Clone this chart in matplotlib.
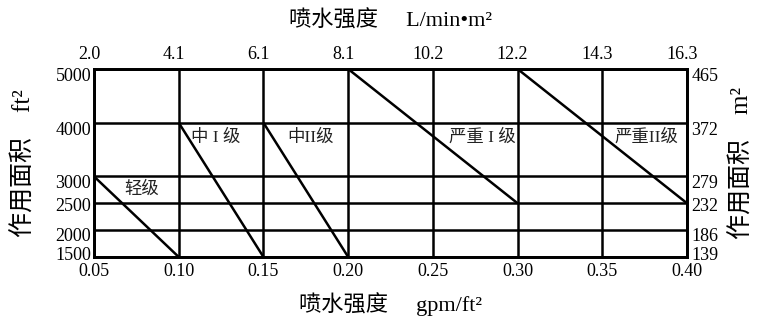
import matplotlib
matplotlib.use("Agg")
import matplotlib.pyplot as plt
from matplotlib.transforms import ScaledTranslation

plt.rcParams["font.family"] = ["Liberation Serif", "Noto Sans CJK SC"]

# 喷水强度 (gpm/ft²) 与对应的 L/min·m²
gpm = [0.05, 0.10, 0.15, 0.20, 0.25, 0.30, 0.35, 0.40]
lpm_labels = ["2.0", "4.1", "6.1", "8.1", "10.2", "12.2", "14.3", "16.3"]
# 作用面积 ft² 与对应的 m²
area_ft2 = [1500, 2000, 2500, 3000, 4000, 5000]
area_m2 = ["139", "186", "232", "279", "372", "465"]

# 各危险等级的设计曲线 (起点 -> 终点)
classes = ["轻级", "中 I 级", "中II级", "严重 I 级", "严重II级"]
x0 = [0.05, 0.10, 0.15, 0.20, 0.30]
y0 = [3000, 4000, 4000, 5000, 5000]
x1 = [0.10, 0.15, 0.20, 0.30, 0.40]
y1 = [1500, 1500, 1500, 2500, 2500]

fig = plt.figure(figsize=(7.65, 3.24), dpi=100)
ax = fig.add_axes([0.1229, 0.2068, 0.7752, 0.5802])
ax.set_xlim(gpm[0], gpm[-1])
ax.set_ylim(area_ft2[0], area_ft2[-1])

for x in gpm:
    ax.axvline(x, color="black", lw=1.8)
for y in area_ft2:
    ax.axhline(y, color="black", lw=1.8)

for xa, ya, xb, yb in zip(x0, y0, x1, y1):
    ax.plot([xa, xb], [ya, yb], color="black", lw=1.8, solid_capstyle="butt")

# 等级标注
label_pos = [(0.0783, 2750), (0.122, 3720), (0.1775, 3720), (0.2790, 3720), (0.3760, 3720)]
for name, (lx, ly) in zip(classes, label_pos):
    ax.text(lx, ly, name, ha="center", va="center", fontsize=12.5, color="#222222")

ax.set_xticks(gpm, [f"{v:.2f}" for v in gpm])
ax.set_yticks(area_ft2, [str(v) for v in area_ft2])
ax.tick_params(length=0, labelsize=13, pad=2)
ax.tick_params(axis="x", pad=4)

top = ax.twiny()
top.set_xlim(ax.get_xlim())
top.set_xticks(gpm, lpm_labels)
top.tick_params(length=0, labelsize=13, pad=4)

right = ax.twinx()
right.set_ylim(ax.get_ylim())
right.set_yticks(area_ft2, area_m2)
right.tick_params(length=0, labelsize=13, pad=3)
for a in (ax, top, right):
    for s in a.spines.values():
        s.set_linewidth(1.8)

# 刻度文字微调: 纵轴文字略低于网格线, 顶部文字略偏左
dy_px = [-3, 4, 1, 5, 6, 5]
for lab_l, lab_r, d in zip(ax.get_yticklabels(), right.get_yticklabels(), dy_px):
    off = ScaledTranslation(0, -d / 100, fig.dpi_scale_trans)
    lab_l.set_transform(lab_l.get_transform() + off)
    lab_r.set_transform(lab_r.get_transform() + off)
for lab in top.get_xticklabels():
    lab.set_transform(lab.get_transform() + ScaledTranslation(-5 / 100, 0, fig.dpi_scale_trans))

ax.set_xlabel("喷水强度     gpm/ft²", fontsize=16, labelpad=9)
top.set_xlabel("喷水强度     L/min•m²", fontsize=16, labelpad=14)
ax.set_ylabel("作用面积    ft²", fontsize=18, labelpad=14)
right.set_ylabel("作用面积    m²", fontsize=18, labelpad=9, rotation=90)

fig.savefig("out.png", dpi=100)
